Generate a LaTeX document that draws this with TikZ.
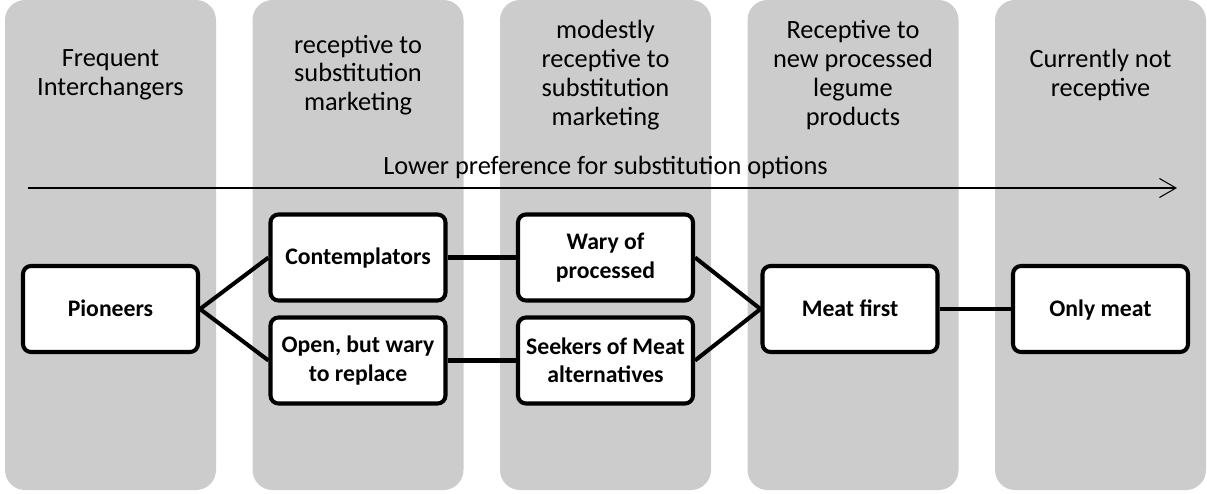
\documentclass[tikz,border=0pt]{standalone}
\usepackage{fontspec}
\setmainfont{Carlito}
\usetikzlibrary{arrows.meta}
\tikzset{>={Straight Barb[length=3.3mm,width=3.8mm]}}
\colorlet{bandgray}{black!20}
\tikzstyle{band}=[fill=bandgray,draw=none,rounded corners=0.4cm]
\tikzstyle{header}=[align=center,font=\fontsize{15}{16.4}\selectfont]
\tikzstyle{segment}=[draw=black,line width=2.3pt,fill=white,rounded corners=0.16cm,
  minimum width=3.5cm,minimum height=1.72cm,inner sep=2pt,align=center,
  font=\fontsize{13.5}{16.2}\selectfont\bfseries]
\tikzstyle{oneline}=[text height=2.2ex,text depth=0.48ex]
\tikzstyle{link}=[line width=2.3pt]
\tikzstyle{scale arrow}=[->,line width=0.6pt]

\begin{document}
\begin{tikzpicture}
  \useasboundingbox (0,0) rectangle (24.14,9.86);
  \def\H{8.36} % header height
  \def\M{3.68} % middle row
  \def\U{4.71} % upper row
  \def\L{2.65} % lower row

  % COLUMNS
  \fill[band] ( 0.10,0.06) rectangle ( 4.32,9.86);
  \fill[band] ( 5.05,0.06) rectangle ( 9.27,9.86);
  \fill[band] (10.00,0.06) rectangle (14.22,9.86);
  \fill[band] (14.95,0.06) rectangle (19.17,9.86);
  \fill[band] (19.90,0.06) rectangle (24.12,9.86);

  \node[header] (h1) at ( 2.21,\H) {Frequent\\Interchangers};
  \node[header] (h2) at ( 7.16,\H) {receptive to\\substitution\\marketing};
  \node[header] (h3) at (12.11,\H) {modestly\\receptive to\\substitution\\marketing};
  \node[header] (h4) at (17.06,\H) {Receptive to\\new processed\\legume\\products};
  \node[header] (h5) at (22.01,\H) {Currently not\\receptive};

  % PREFERENCE AXIS
  \coordinate (A0) at ( 0.56,6.10);
  \coordinate (A1) at (23.54,6.10);
  \draw[scale arrow] (A0) -- (A1);
  \node[header] (pref) at (12.11,6.52) {Lower preference for substitution options};

  % SEGMENTS
  \node[segment,oneline] (pio) at ( 2.21,\M) {Pioneers};
  \node[segment,oneline] (con) at ( 7.16,\U) {Contemplators};
  \node[segment] (opn) at ( 7.16,\L) {Open, but wary\\to replace};
  \node[segment] (wry) at (12.11,\U) {Wary of\\processed};
  \node[segment] (skr) at (12.11,\L) {Seekers of Meat\\alternatives};
  \node[segment,oneline] (mft) at (17.00,\M) {Meat first};
  \node[segment,oneline] (omt) at (22.01,\M) {Only meat};

  \draw[link] (con.west) -- (pio.east) -- (opn.west);
  \draw[link] (con) -- (wry);
  \draw[link] (opn) -- (skr);
  \draw[link] (wry.east) -- (mft.west) -- (skr.east);
  \draw[link] (mft) -- (omt);
\end{tikzpicture}
\end{document}
